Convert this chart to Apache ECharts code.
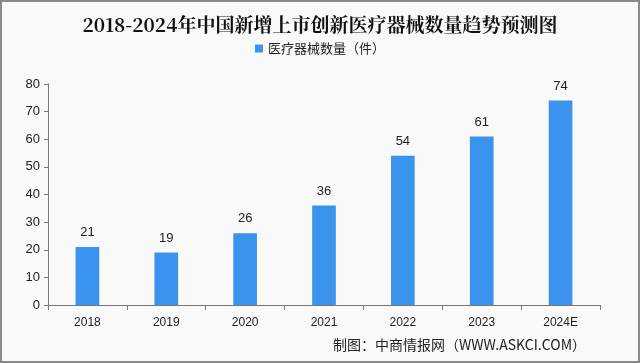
<!DOCTYPE html>
<html><head><meta charset="utf-8">
<script src="https://cdn.jsdelivr.net/npm/echarts@6/dist/echarts.min.js"></script>
<style>html,body{margin:0;padding:0;background:#fff}#c{width:640px;height:363px;box-sizing:border-box;border:2px solid #8a8a8a;background:#f9f9f9}</style>
</head><body><div id="c"></div>
<script>
const categories = ['2018','2019','2020','2021','2022','2023','2024E'];
const values = [21,19,26,36,54,61,74];
const yTicks = [0,10,20,30,40,50,60,70,80];
const title = '2018-2024年中国新增上市创新医疗器械数量趋势预测图';
const seriesName = '医疗器械数量（件）';
const source = '制图：中商情报网（WWW.ASKCI.COM）';

const chart = echarts.init(document.getElementById('c'), null, {renderer:'canvas'});
chart.setOption({
  animation:false,
  title:{text:title,left:'center',top:8,textStyle:{fontFamily:'"Noto Serif CJK SC","Noto Sans CJK SC",serif',fontSize:19,fontWeight:'bold',color:'#111'}},
  legend:{data:[seriesName],top:35,left:'center',itemWidth:8,itemHeight:8,icon:'rect',textStyle:{fontFamily:'"Noto Sans CJK SC",sans-serif',fontSize:13,color:'#222'}},
  graphic:[{type:'text',right:52,top:336,style:{text:source,fontFamily:'"Noto Sans CJK SC",sans-serif',fontSize:14,fill:'#222'}}],
  grid:{left:46,right:38,top:82,bottom:56},
  xAxis:{type:'category',data:categories,
    axisLine:{lineStyle:{color:'#777'}},
    axisTick:{show:true,alignWithLabel:false,length:5,lineStyle:{color:'#777'}},
    axisLabel:{fontFamily:'Arial,"Liberation Sans",sans-serif',fontSize:12,color:'#222',margin:12}},
  yAxis:{type:'value',min:yTicks[0],max:yTicks[yTicks.length-1],interval:10,
    axisLine:{show:true,lineStyle:{color:'#777'}},
    axisTick:{show:true,length:4,lineStyle:{color:'#777'}},
    splitLine:{show:false},
    axisLabel:{fontFamily:'Arial,"Liberation Sans",sans-serif',fontSize:13,color:'#222',margin:8}},
  series:[{name:seriesName,type:'bar',data:values,barWidth:'30%',
    itemStyle:{color:'#3a93ec'},
    label:{show:true,position:'top',distance:8,fontFamily:'Arial,"Liberation Sans",sans-serif',fontSize:13,color:'#222'}}]
});
</script></body></html>
